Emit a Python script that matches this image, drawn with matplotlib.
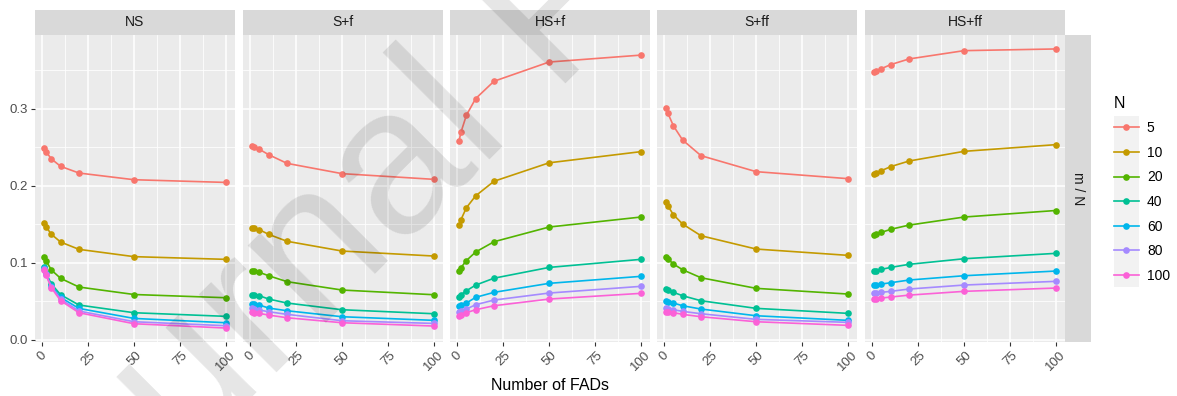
import numpy as np
import matplotlib
matplotlib.use("Agg")
import matplotlib.pyplot as plt
from matplotlib.ticker import MultipleLocator
from matplotlib.lines import Line2D

plt.rcParams['font.family'] = ['Liberation Sans', 'DejaVu Sans']

# ---------------- data ----------------
fads = [1, 2, 5, 10, 20, 50, 100]
n_levels = ['5', '10', '20', '40', '60', '80', '100']
scenarios = ['NS', 'S+f', 'HS+f', 'S+ff', 'HS+ff']
colors = ['#F8766D', '#C49A00', '#53B400', '#00C094', '#00B6EB', '#A58AFF', '#FB61D7']

ns_vals = [
    [0.2490, 0.2445, 0.2350, 0.2254, 0.2167, 0.2080, 0.2045],
    [0.1520, 0.1470, 0.1370, 0.1270, 0.1175, 0.1080, 0.1045],
    [0.1080, 0.1027, 0.0906, 0.0798, 0.0685, 0.0588, 0.0546],
    [0.0941, 0.0870, 0.0724, 0.0585, 0.0451, 0.0351, 0.0304],
    [0.0928, 0.0855, 0.0702, 0.0550, 0.0407, 0.0277, 0.0221],
    [0.0920, 0.0850, 0.0690, 0.0528, 0.0373, 0.0234, 0.0182],
    [0.0911, 0.0842, 0.0673, 0.0508, 0.0351, 0.0208, 0.0152],
]
sf_vals = [
    [0.2514, 0.2505, 0.2475, 0.2406, 0.2293, 0.2159, 0.2085],
    [0.1456, 0.1452, 0.1430, 0.1370, 0.1280, 0.1153, 0.1088],
    [0.0897, 0.0893, 0.0876, 0.0832, 0.0755, 0.0646, 0.0585],
    [0.0585, 0.0580, 0.0572, 0.0529, 0.0477, 0.0390, 0.0338],
    [0.0468, 0.0462, 0.0451, 0.0412, 0.0377, 0.0299, 0.0252],
    [0.0407, 0.0400, 0.0386, 0.0364, 0.0330, 0.0247, 0.0212],
    [0.0355, 0.0350, 0.0342, 0.0321, 0.0286, 0.0221, 0.0178],
]
hsf_vals = [
    [0.2588, 0.2696, 0.2920, 0.3134, 0.3360, 0.3610, 0.3700],
    [0.1487, 0.1560, 0.1717, 0.1870, 0.2060, 0.2300, 0.2445],
    [0.0889, 0.0936, 0.1030, 0.1140, 0.1274, 0.1465, 0.1595],
    [0.0555, 0.0585, 0.0637, 0.0710, 0.0800, 0.0940, 0.1045],
    [0.0433, 0.0446, 0.0477, 0.0551, 0.0616, 0.0733, 0.0824],
    [0.0356, 0.0370, 0.0399, 0.0455, 0.0516, 0.0607, 0.0694],
    [0.0312, 0.0325, 0.0352, 0.0390, 0.0442, 0.0529, 0.0603],
]
sff_vals = [
    [0.3017, 0.2943, 0.2780, 0.2596, 0.2393, 0.2185, 0.2094],
    [0.1786, 0.1738, 0.1625, 0.1504, 0.1352, 0.1179, 0.1097],
    [0.1070, 0.1050, 0.0984, 0.0910, 0.0806, 0.0668, 0.0594],
    [0.0659, 0.0646, 0.0616, 0.0572, 0.0507, 0.0408, 0.0343],
    [0.0503, 0.0494, 0.0477, 0.0442, 0.0399, 0.0312, 0.0252],
    [0.0408, 0.0403, 0.0390, 0.0369, 0.0338, 0.0265, 0.0226],
    [0.0364, 0.0360, 0.0352, 0.0330, 0.0299, 0.0234, 0.0187],
]
hsff_vals = [
    [0.3476, 0.3490, 0.3524, 0.3576, 0.3650, 0.3758, 0.3780],
    [0.2154, 0.2167, 0.2198, 0.2250, 0.2323, 0.2449, 0.2536],
    [0.1361, 0.1370, 0.1396, 0.1435, 0.1490, 0.1595, 0.1680],
    [0.0893, 0.0897, 0.0915, 0.0940, 0.0980, 0.1053, 0.1123],
    [0.0707, 0.0711, 0.0724, 0.0741, 0.0776, 0.0832, 0.0893],
    [0.0603, 0.0607, 0.0616, 0.0629, 0.0659, 0.0711, 0.0759],
    [0.0529, 0.0533, 0.0542, 0.0555, 0.0580, 0.0629, 0.0672],
]
panel_data = [ns_vals, sf_vals, hsf_vals, sff_vals, hsff_vals]

x_ticks = [0, 25, 50, 75, 100]
y_ticks = [0.0, 0.1, 0.2, 0.3]

# ---------------- layout ----------------
W, H = 1177, 396
fig = plt.figure(figsize=(W / 100, H / 100), dpi=100)


def rect(x0, y0, x1, y1):
    return [x0 / W, 1 - y1 / H, (x1 - x0) / W, (y1 - y0) / H]


allv = np.concatenate([np.ravel(v) for v in panel_data])
ymin, ymax = allv.min(), allv.max()
ypad = 0.05 * (ymax - ymin)
xmin, xmax = min(fads), max(fads)
xpad = 0.05 * (xmax - xmin)

panel_x0 = [35, 243, 450, 657, 865]
pw = 200
ptop, pbot = 35, 342
tick_color = '#333333'
label_color = '#4D4D4D'

axes = []
for i, (name, vals) in enumerate(zip(scenarios, panel_data)):
    x0 = panel_x0[i]
    ax = fig.add_axes(rect(x0, ptop, x0 + pw, pbot))
    ax.set_facecolor('#EBEBEB')
    for s in ax.spines.values():
        s.set_visible(False)
    ax.set_xlim(xmin - xpad, xmax + xpad)
    ax.set_ylim(ymin - ypad, ymax + ypad)
    ax.xaxis.set_major_locator(MultipleLocator(25))
    ax.xaxis.set_minor_locator(MultipleLocator(12.5))
    ax.yaxis.set_major_locator(MultipleLocator(0.1))
    ax.yaxis.set_minor_locator(MultipleLocator(0.05))
    ax.grid(which='major', color='white', linewidth=1.1)
    ax.grid(which='minor', color='white', linewidth=0.55)
    ax.set_axisbelow(True)
    ax.tick_params(which='minor', length=0)
    ax.tick_params(which='major', length=3, width=0.8, color=tick_color,
                   labelcolor=label_color, labelsize=9.5, pad=2)
    ax.set_xticks(x_ticks)
    ax.set_xticklabels([str(t) for t in x_ticks], rotation=45, ha='center', va='top')
    ax.set_yticks(y_ticks)
    if i == 0:
        ax.set_yticklabels(['%.1f' % t for t in y_ticks])
    else:
        ax.tick_params(axis='y', length=0, labelleft=False)
    for vals_n, col, lab in zip(vals, colors, n_levels):
        ax.plot(fads, vals_n, color=col, lw=1.2, marker='o', markersize=4.8,
                markeredgewidth=0, label=lab, solid_capstyle='butt', zorder=3)
    # strip on top
    sax = fig.add_axes(rect(x0, 10, x0 + pw, ptop))
    sax.set_facecolor('#D9D9D9')
    sax.set_xticks([]); sax.set_yticks([])
    for s in sax.spines.values():
        s.set_visible(False)
    sax.text(0.5, 0.5, name, ha='center', va='center', fontsize=10,
             color='#1A1A1A', transform=sax.transAxes)
    axes.append(ax)

# right strip
rax = fig.add_axes(rect(1065, ptop, 1091, pbot))
rax.set_facecolor('#D9D9D9')
rax.set_xticks([]); rax.set_yticks([])
for s in rax.spines.values():
    s.set_visible(False)
rax.text(0.5, 0.5, 'm / N', rotation=-90, ha='center', va='center', fontsize=10,
         color='#1A1A1A', transform=rax.transAxes)

# x-axis title
fig.text(550 / W, 1 - 386 / H, 'Number of FADs', ha='center', va='center',
         fontsize=11.5, color='black')

# legend key background
kax = fig.add_axes(rect(1114, 116, 1139, 287))
kax.set_facecolor('#F2F2F2')
kax.set_xticks([]); kax.set_yticks([])
for s in kax.spines.values():
    s.set_visible(False)

handles = [Line2D([], [], color=c, lw=1.2, marker='o', markersize=4.8,
                  markeredgewidth=0) for c in colors]
leg = fig.legend(handles, n_levels, title='N', loc='upper left',
                 bbox_to_anchor=(1108 / W, 1 - 90 / H), frameon=False,
                 fontsize=10, title_fontsize=11.5, handlelength=1.8,
                 handletextpad=0.6, labelspacing=0.765, borderaxespad=0,
                 alignment='left')

# watermark
fig.text(30 / W, 1 - 620 / H, 'Journal Pre-proof', rotation=45,
         rotation_mode='anchor', ha='left', va='baseline', fontsize=150,
         color='black', alpha=0.10, zorder=10)

fig.savefig('out.png', dpi=100)
